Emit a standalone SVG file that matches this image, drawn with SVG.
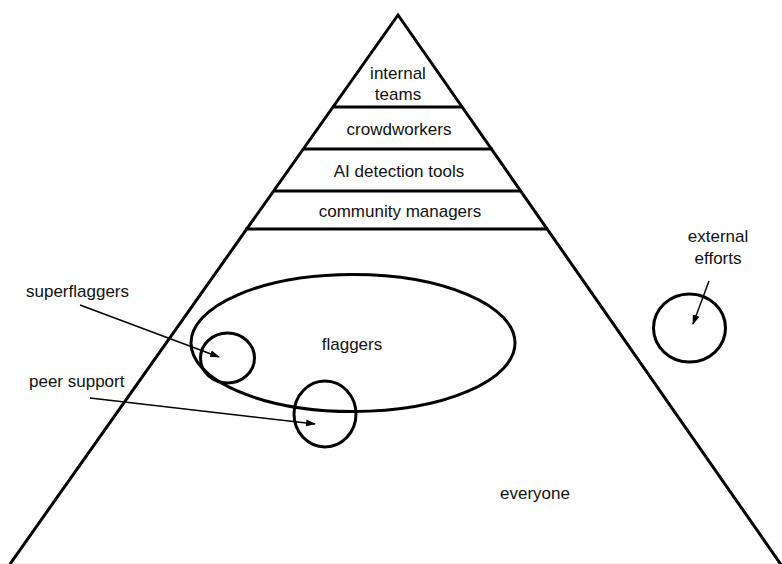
<svg xmlns="http://www.w3.org/2000/svg" width="782" height="564" viewBox="0 0 782 564">
<defs>
<style>
.t{font-family:"Liberation Sans",Arial,sans-serif;font-size:17px;fill:#111;}
.c{text-anchor:middle;}
.edge{stroke:#000;stroke-width:3;fill:none;stroke-linecap:butt;}
.shape{stroke:#000;stroke-width:3;fill:none;}
.arrow{stroke:#000;stroke-width:1.4;fill:none;}
</style>
<marker id="ah" markerWidth="10" markerHeight="8" refX="9" refY="4" orient="auto" markerUnits="userSpaceOnUse">
<path d="M0,0.5 L10,4 L0,7.5 Z" fill="#000"/>
</marker>
</defs>
<rect width="782" height="564" fill="#fff"/>
<rect x="0" y="563" width="782" height="1" fill="#f0f0f0"/>
<g id="pyramid">
<polyline class="edge" points="10,564 398,15 782,566"/>
<line class="edge" x1="332" y1="107" x2="463" y2="107"/>
<line class="edge" x1="303" y1="149" x2="493" y2="149"/>
<line class="edge" x1="273" y1="191" x2="521" y2="191"/>
<line class="edge" x1="245" y1="229" x2="548" y2="229"/>
</g>
<g id="internal-teams">
<text class="t c" x="398" y="79">internal</text>
<text class="t c" x="398" y="100">teams</text>
</g>
<g id="crowdworkers"><text class="t c" x="399" y="135">crowdworkers</text></g>
<g id="ai-detection-tools"><text class="t c" x="399" y="177">AI detection tools</text></g>
<g id="community-managers"><text class="t c" x="400" y="217">community managers</text></g>
<g id="flaggers">
<ellipse class="shape" cx="353" cy="343" rx="162" ry="68.5"/>
<text class="t c" x="352" y="350">flaggers</text>
</g>
<g id="superflaggers">
<ellipse class="shape" cx="227.5" cy="358" rx="27" ry="25"/>
<text class="t" x="26" y="297">superflaggers</text>
</g>
<g id="peer-support">
<ellipse class="shape" cx="325" cy="414" rx="31" ry="33"/>
<text class="t" x="29" y="387">peer support</text>
</g>
<g id="external-efforts">
<ellipse class="shape" cx="689.5" cy="328" rx="36" ry="34"/>
<text class="t c" x="718" y="242">external</text>
<text class="t c" x="718" y="264">efforts</text>
</g>
<g id="everyone"><text class="t c" x="535" y="499">everyone</text></g>
<g id="connectors">
<line class="arrow" x1="80" y1="305" x2="219" y2="357" marker-end="url(#ah)"/>
<line class="arrow" x1="90" y1="398" x2="315" y2="424" marker-end="url(#ah)"/>
<line class="arrow" x1="709" y1="281" x2="693" y2="324" marker-end="url(#ah)"/>
</g>
</svg>
